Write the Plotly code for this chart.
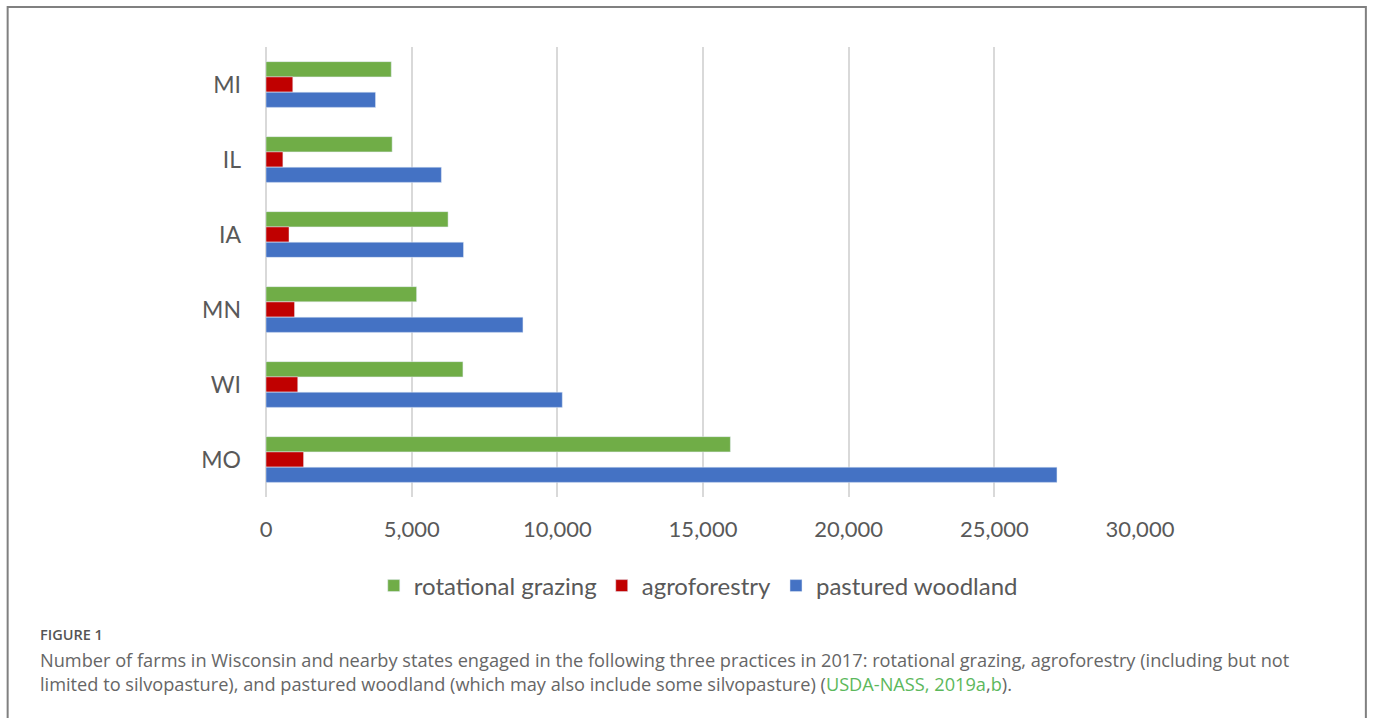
import plotly.graph_objects as go

states = ["MI", "IL", "IA", "MN", "WI", "MO"]
rotational_grazing = [4300, 4330, 6250, 5170, 6760, 15940]
agroforestry = [920, 580, 790, 980, 1090, 1290]
pastured_woodland = [3760, 6020, 6780, 8820, 10170, 27150]
x_ticks = [0, 5000, 10000, 15000, 20000, 25000, 30000]

W, H = 1373, 718
ML, MR, MT, MB = 265.5, 233, 47, 221
PW = W - ML - MR
PH = H - MT - MB


def px_x(px):
    return (px - ML) / PW


def px_y(py):
    return (H - MB - py) / PH


FONT = "Lato"
TXT = "#595959"

fig = go.Figure()
fig.add_trace(go.Bar(y=states, x=rotational_grazing, name="rotational grazing",
                     orientation="h", marker_color="#70AD47"))
fig.add_trace(go.Bar(y=states, x=agroforestry, name="agroforestry",
                     orientation="h", marker_color="#C00000"))
fig.add_trace(go.Bar(y=states, x=pastured_woodland, name="pastured woodland",
                     orientation="h", marker_color="#4472C4"))

fig.update_layout(
    width=W, height=H,
    margin=dict(l=ML, r=MR, t=MT, b=MB, pad=0),
    paper_bgcolor="white", plot_bgcolor="white",
    barmode="group", bargap=0.39, bargroupgap=0,
    font=dict(family=FONT, color=TXT),
    showlegend=True,
    legend=dict(orientation="h", x=px_x(698), xanchor="center",
                y=px_y(586), yanchor="middle",
                font=dict(size=24, color=TXT, family=FONT),
                itemclick=False, itemdoubleclick=False),
    xaxis=dict(range=[0, 30000], tickvals=x_ticks, tickformat=",",
               showgrid=True, gridcolor="#D9D9D9", gridwidth=2,
               zeroline=True, zerolinecolor="#D9D9D9", zerolinewidth=2,
               showline=False, ticks="", ticklabelstandoff=17,
               tickfont=dict(size=22, color=TXT, family=FONT)),
    yaxis=dict(autorange="reversed", type="category", categoryorder="array",
               categoryarray=states, showgrid=False, zeroline=False, showline=False,
               ticks="", ticklabelstandoff=24,
               tickfont=dict(size=23, color=TXT, family=FONT)),
)

# figure frame
fig.add_shape(type="rect", xref="paper", yref="paper",
              x0=px_x(7), x1=px_x(1366), y0=px_y(740), y1=px_y(7),
              line=dict(color="#808080", width=2), fillcolor="rgba(0,0,0,0)", layer="below")

CAP = "Open Sans"
fig.add_annotation(xref="paper", yref="paper", x=px_x(37), y=px_y(634),
                   xanchor="left", yanchor="middle", showarrow=False,
                   text="FIGURE 1", font=dict(size=14.5, color="#555555", family=CAP, weight=600))
fig.add_annotation(xref="paper", yref="paper", x=px_x(37), y=px_y(672),
                   xanchor="left", yanchor="middle", showarrow=False, align="left",
                   text=("Number of farms in Wisconsin and nearby states engaged in the following three practices in 2017: "
                         "rotational grazing, agroforestry (including but not<br>limited to silvopasture), and pastured woodland "
                         "(which may also include some silvopasture) (<span style='color:#5CB85C'>USDA-NASS, 2019a</span>,"
                         "<span style='color:#5CB85C'>b</span>)."),
                   font=dict(size=18.2, color="#666666", family=CAP))

fig.write_html("out.html")
